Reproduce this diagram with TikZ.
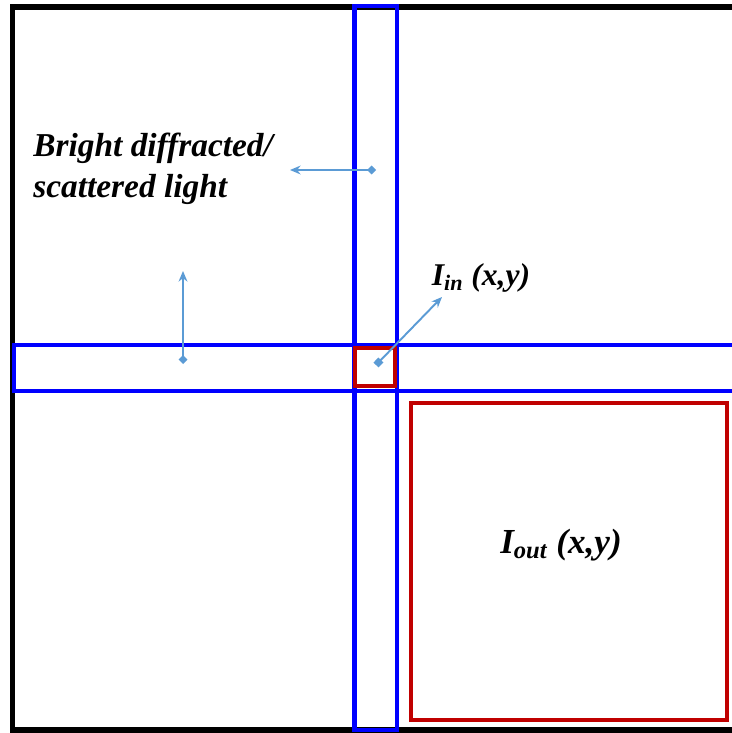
\documentclass[tikz,border=0pt]{standalone}
\usepackage{fontspec}
\setmainfont{Liberation Serif}
\usetikzlibrary{arrows.meta}

\definecolor{bandblue}{RGB}{0,0,255}
\definecolor{boxred}{RGB}{192,0,0}
\definecolor{rayblue}{RGB}{91,155,213}

\begin{document}
\begin{tikzpicture}[x=0.02cm, y=-0.02cm,
	every node/.style={font=\bfseries\itshape, inner sep=0pt},
	frame/.style={draw=black, line width=3.4pt},
	band/.style={draw=bandblue, line width=2.3pt},
	pixbox/.style={draw=boxred, line width=2.3pt},
	ray/.style={draw=rayblue, line width=1.1pt}]
	\useasboundingbox (0,0) rectangle (732,733);
	% detector frame, open to the right
	\draw[frame] (740,7) -| (12.5,730) -- (740,730);
	% row and column through the pixel
	\draw[band] (740,345) -- (14,345) -- (14,391) -- (740,391);
	\draw[band] (354.5,6) rectangle (397,730);
	% pixel and output area
	\draw[pixbox] (355,348) rectangle (395,386);
	\draw[boxred, line width=2pt] (411,403) rectangle (727,720);

	\node[anchor=north west, align=left, font=\fontsize{19}{23}\selectfont\bfseries\itshape] (light) at (33,133) {Bright diffracted/\\scattered light};
	\node[font=\fontsize{18}{21}\selectfont\bfseries\itshape] (iin) at (481,278) {I\textsubscript{in} (x,y)};
	\node[font=\fontsize{20}{22}\selectfont\bfseries\itshape] (iout) at (561,545) {I\textsubscript{out} (x,y)};

	\coordinate (hL) at (290,170); \coordinate (hR) at (376,170);
	\coordinate (vT) at (183,271); \coordinate (vB) at (183,364);
	\coordinate (pix) at (376,365); \coordinate (inTip) at (442,297);
	\draw[ray, {Diamond[length=5pt, width=5pt]}-{Stealth[length=6pt, width=5pt]}] (hR) -- (hL);
	\draw[ray, {Diamond[length=5pt, width=5pt]}-{Stealth[length=6pt, width=5pt]}] (vB) -- (vT);
	\draw[ray, {Square[length=4pt, width=4pt]}-{Stealth[length=6pt, width=5pt]}] (pix) -- (inTip);
\end{tikzpicture}
\end{document}
